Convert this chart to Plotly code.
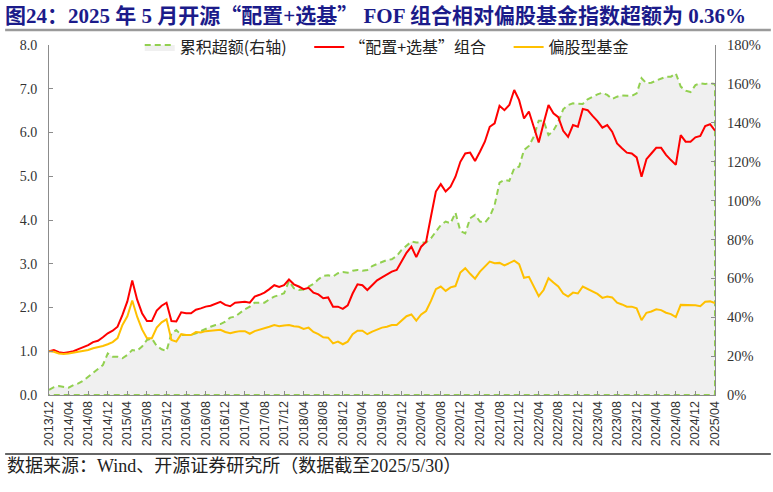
import plotly.graph_objects as go

# ---- data ----
start_year, start_month, n_months = 2013, 12, 137
months = []
y, m = start_year, start_month
for _ in range(n_months):
    months.append(f"{y}/{m:02d}")
    m += 1
    if m > 12:
        m = 1
        y += 1

tick_labels = months[::4]

fof_portfolio = [
    1.00, 1.03, 0.98, 0.96, 0.98, 1.00, 1.05, 1.09, 1.14, 1.21,
    1.24, 1.32, 1.41, 1.47, 1.56, 1.83, 2.14, 2.62, 2.18, 1.87,
    1.69, 1.69, 1.93, 2.04, 2.11, 1.69, 1.68, 1.89, 1.87, 1.87,
    1.95, 1.98, 2.02, 2.04, 2.08, 2.13, 2.06, 2.03, 2.11, 2.12,
    2.13, 2.11, 2.25, 2.29, 2.34, 2.42, 2.51, 2.47, 2.51, 2.64,
    2.53, 2.48, 2.42, 2.45, 2.34, 2.30, 2.21, 2.23, 2.02, 2.02,
    1.97, 2.05, 2.32, 2.53, 2.51, 2.40, 2.51, 2.62, 2.69, 2.75,
    2.82, 2.86, 3.05, 3.25, 3.39, 3.15, 3.39, 3.50, 4.08, 4.65,
    4.82, 4.65, 4.76, 4.99, 5.33, 5.52, 5.54, 5.35, 5.56, 5.79,
    6.13, 6.21, 6.61, 6.51, 6.63, 6.97, 6.74, 6.32, 6.48, 6.10,
    5.77, 6.21, 6.63, 6.44, 6.35, 6.04, 5.90, 6.17, 6.13, 6.54,
    6.51, 6.38, 6.26, 6.11, 6.17, 6.02, 5.75, 5.64, 5.54, 5.52,
    5.43, 4.99, 5.39, 5.52, 5.65, 5.65, 5.49, 5.37, 5.26, 5.94,
    5.79, 5.79, 5.89, 5.92, 6.15, 6.19, 6.04,
]

equity_fund = [
    1.00, 0.99, 0.95, 0.94, 0.95, 0.97, 0.99, 1.00, 1.03, 1.07,
    1.09, 1.12, 1.16, 1.21, 1.30, 1.60, 1.80, 2.16, 1.79, 1.50,
    1.30, 1.30, 1.54, 1.66, 1.73, 1.26, 1.22, 1.39, 1.37, 1.37,
    1.44, 1.43, 1.46, 1.47, 1.48, 1.49, 1.44, 1.41, 1.44, 1.46,
    1.46, 1.40, 1.46, 1.49, 1.52, 1.56, 1.60, 1.57, 1.59, 1.60,
    1.57, 1.56, 1.51, 1.54, 1.44, 1.39, 1.32, 1.31, 1.18, 1.22,
    1.16, 1.22, 1.39, 1.47, 1.47, 1.39, 1.45, 1.49, 1.54, 1.56,
    1.60, 1.60, 1.71, 1.80, 1.84, 1.70, 1.84, 1.92, 2.15, 2.42,
    2.48, 2.38, 2.46, 2.49, 2.80, 2.90, 2.77, 2.66, 2.82, 2.93,
    3.05, 3.01, 3.02, 2.96, 3.02, 3.07, 2.99, 2.68, 2.70, 2.48,
    2.26, 2.40, 2.67, 2.57, 2.48, 2.32, 2.25, 2.34, 2.32, 2.48,
    2.42, 2.36, 2.31, 2.22, 2.25, 2.23, 2.11, 2.07, 2.02, 2.02,
    1.98, 1.71, 1.88, 1.91, 1.96, 1.94, 1.88, 1.85, 1.78, 2.06,
    2.06, 2.05, 2.05, 2.03, 2.13, 2.14, 2.10,
]

cum_excess_pct = [
    2.6, 4.0, 4.6, 4.3, 3.8, 5.1, 6.0, 7.4, 9.4, 11.5,
    13.2, 15.4, 21.4, 19.7, 19.7, 18.9, 20.6, 23.1, 22.8, 24.9,
    28.3, 29.1, 25.2, 23.5, 22.6, 31.7, 33.4, 30.9, 30.9, 30.9,
    31.7, 32.9, 34.1, 35.1, 36.0, 36.5, 37.7, 39.8, 40.3, 42.3,
    44.1, 45.4, 47.5, 47.5, 47.5, 49.2, 50.6, 51.4, 52.3, 58.6,
    54.9, 54.0, 54.3, 55.7, 57.1, 59.5, 61.2, 61.6, 60.9, 62.6,
    63.3, 62.9, 63.9, 64.3, 63.9, 64.3, 66.3, 67.4, 68.6, 69.4,
    69.8, 71.5, 74.6, 76.6, 78.9, 78.4, 78.4, 78.4, 80.6, 84.3,
    87.4, 89.2, 88.3, 93.8, 84.3, 83.1, 90.9, 92.6, 89.2, 88.6,
    91.7, 97.7, 109.2, 110.6, 110.1, 116.6, 117.4, 126.0, 128.1, 132.9,
    141.1, 141.1, 133.7, 136.0, 140.5, 146.9, 149.1, 150.0, 150.0, 149.7,
    152.1, 153.4, 154.6, 155.5, 154.3, 152.2, 153.4, 154.1, 154.0, 153.8,
    155.1, 162.9, 160.3, 160.6, 161.7, 162.9, 163.7, 163.7, 165.4, 158.6,
    156.5, 155.8, 159.4, 160.3, 160.0, 160.3, 160.0,
]

left_ticks = [0, 1, 2, 3, 4, 5, 6, 7, 8]
right_ticks = [0, 20, 40, 60, 80, 100, 120, 140, 160, 180]

# ---- figure ----
SERIF = "Liberation Serif, Noto Sans CJK SC, serif"
CJK_FIRST = "Noto Sans CJK SC, sans-serif"
AXIS_GRAY = "#8c8c8c"
Q = "<span style=\"font-family:'Noto Sans CJK SC'\">{}</span>"

fig = go.Figure()

# area (closed polygon so the whole outline is dashed like the original)
fig.add_trace(go.Scatter(
    x=months + [months[-1], months[0]],
    y=cum_excess_pct + [0, 0],
    name="累积超额(右轴)",
    mode="lines",
    fill="toself",
    fillcolor="#f0f0f0",
    line=dict(color="#92d050", width=2, dash="6px,4px"),
    yaxis="y",
    legend="legend",
    hoverinfo="skip",
))
fig.add_trace(go.Scatter(
    x=months, y=fof_portfolio, name="“配置+选基”组合",
    mode="lines", line=dict(color="#ff0000", width=2), yaxis="y2",
    legend="legend2",
))
fig.add_trace(go.Scatter(
    x=months, y=equity_fund, name="偏股型基金",
    mode="lines", line=dict(color="#ffc000", width=2), yaxis="y2",
    legend="legend3",
))

W, H = 773, 492
L, R, T, B = 49, 56, 45, 97
pw, ph = W - L - R, H - T - B


def px_x(px):
    return (px - L) / pw


def px_y(py):
    return (H - B - py) / ph


def legend_at(xpx):
    return dict(
        x=px_x(xpx), y=px_y(30), xanchor="left", yanchor="top",
        font=dict(family=CJK_FIRST, size=16, color="#222222"),
        bgcolor="rgba(0,0,0,0)", itemwidth=30,
    )


fig.update_layout(
    width=W, height=H,
    margin=dict(l=L, r=R, t=T, b=B, pad=0),
    paper_bgcolor="white", plot_bgcolor="white",
    showlegend=True,
    legend=legend_at(140),
    legend2=legend_at(310),
    legend3=legend_at(510),
    title=dict(
        text="<b>图24：2025 年 5 月开源" + Q.format("“") + "配置+选基" + Q.format("”")
             + " FOF 组合相对偏股基金指数超额为 0.36%</b>",
        x=5 / W, xanchor="left", y=1 - 16 / H, yanchor="middle",
        font=dict(family=SERIF, size=21, color="#1b1b8a"),
    ),
    xaxis=dict(
        type="category", range=[0, len(months) - 1], autorange=False,
        tickvals=tick_labels, ticktext=tick_labels, tickangle=-90,
        tickfont=dict(family="Liberation Sans, Arial, sans-serif", size=12.5, color="#333333"),
        showline=True, linecolor=AXIS_GRAY, linewidth=1,
        ticks="inside", ticklen=4, tickcolor=AXIS_GRAY,
        showgrid=False, zeroline=False,
    ),
    yaxis=dict(
        side="right", range=[0, 180], autorange=False,
        tickvals=right_ticks, ticktext=[f"{v}%" for v in right_ticks],
        tickfont=dict(family=SERIF, size=14.5, color="#333333"),
        showline=True, linecolor=AXIS_GRAY, linewidth=1,
        ticks="inside", ticklen=4, tickcolor=AXIS_GRAY, ticklabelstandoff=8,
        showgrid=False, zeroline=False,
    ),
    yaxis2=dict(
        side="left", overlaying="y", range=[0, 8], autorange=False,
        tickvals=left_ticks, ticktext=[f"{v:.1f}" for v in left_ticks],
        tickfont=dict(family=SERIF, size=14, color="#333333"),
        showline=True, linecolor=AXIS_GRAY, linewidth=1,
        ticks="inside", ticklen=4, tickcolor=AXIS_GRAY, ticklabelstandoff=8,
        showgrid=False, zeroline=False,
    ),
    shapes=[
        dict(type="line", xref="paper", yref="paper",
             x0=px_x(5), x1=px_x(773), y0=px_y(30), y1=px_y(30),
             line=dict(color="#9a9a9a", width=2.5)),
        dict(type="line", xref="paper", yref="paper",
             x0=px_x(5), x1=px_x(773), y0=px_y(454), y1=px_y(454),
             line=dict(color="#333333", width=1.5)),
    ],
    annotations=[
        dict(text="数据来源：Wind、开源证券研究所（数据截至2025/5/30）",
             xref="paper", yref="paper", x=px_x(5), y=px_y(466),
             xanchor="left", yanchor="middle", showarrow=False,
             font=dict(family=SERIF, size=18, color="#222222")),
    ],
)

fig.write_html(
    "out.html",
    config={"displayModeBar": False},
    post_script="document.body.style.margin='0';",
)
